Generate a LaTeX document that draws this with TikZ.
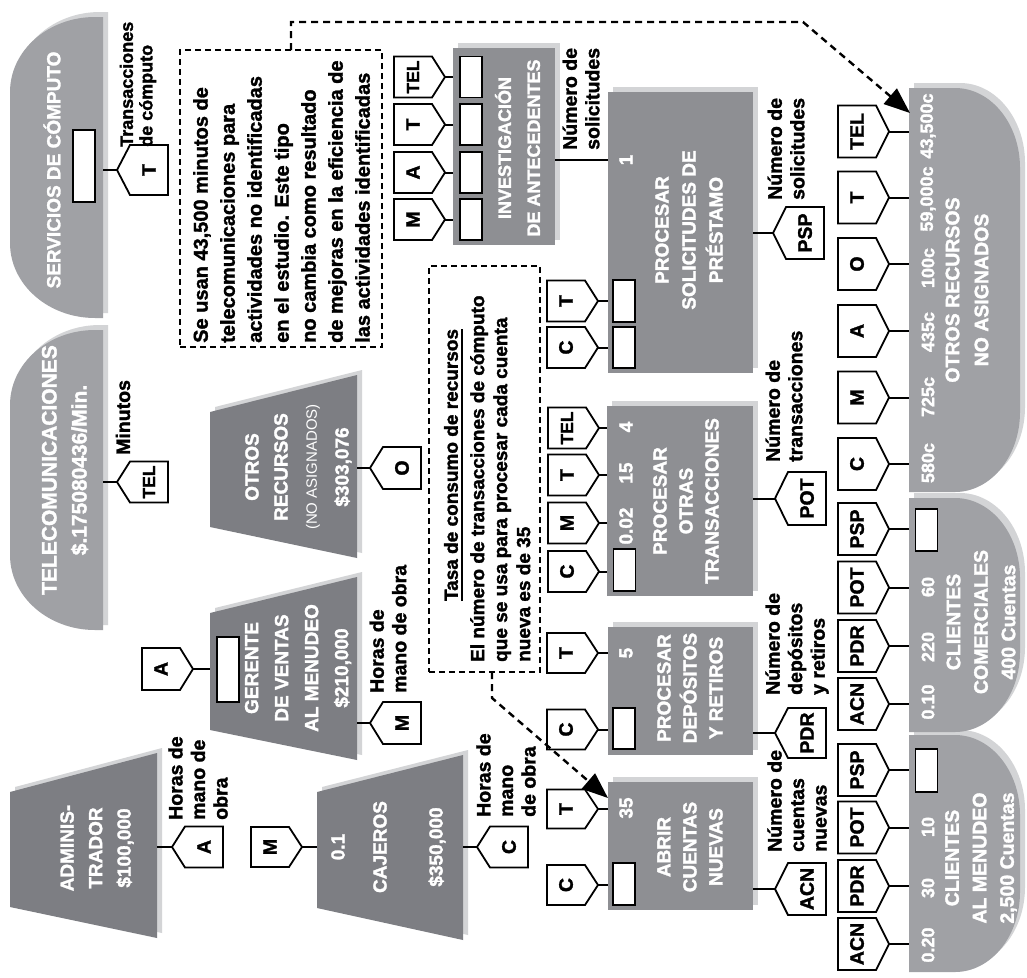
\documentclass[tikz,border=0pt]{standalone}
\usepackage{fontspec}
\setmainfont{Liberation Sans}[BoldFeatures={FakeBold=1.6}]
\usetikzlibrary{arrows.meta}
\definecolor{trapc}{HTML}{7D7E83}
\definecolor{actc}{HTML}{8E8F93}
\definecolor{resc}{HTML}{A0A1A5}
\definecolor{shdc}{HTML}{D3D4D6}
\newcommand{\smtel}{{\fontsize{17.5}{17.5}\selectfont TEL}}
\tikzset{
 shd/.style={preaction={fill=shdc,transform canvas={xshift=5pt,yshift=5pt}}},
 actbox/.style={rectangle, fill=actc, shd, inner sep=0pt, outer sep=0pt},
 slot/.style={rectangle, draw=black, fill=white, line width=1.8pt, inner sep=0pt, minimum width=22pt},
 wt/.style={text=white, font=\fontsize{19}{27}\selectfont\bfseries, rotate=90, align=center, inner sep=0pt},
 num/.style={text=white, font=\fontsize{19}{19}\selectfont\bfseries, rotate=90, inner sep=0pt},
 rnum/.style={text=white, font=\fontsize{18}{18}\selectfont\bfseries, rotate=90, inner sep=0pt},
 lbl/.style={font=\fontsize{19.5}{22.5}\selectfont\bfseries, rotate=90, align=left, anchor=west, inner sep=0pt},
 tagtxt/.style={font=\fontsize{19.5}{19.5}\selectfont\bfseries, rotate=90, inner sep=0pt},
 tagline/.style={draw=black, fill=white, line width=1.8pt, line join=miter},
 conn/.style={line width=2pt},
 note/.style={draw=black, line width=1.6pt, dash pattern=on 6pt off 4pt, inner sep=0pt, outer sep=0pt},
 darrow/.style={line width=2.4pt, dash pattern=on 7pt off 5pt, -{Triangle[length=26pt,width=20pt]}},
 notetxt/.style={font=\fontsize{20}{27}\selectfont\bfseries, rotate=90, align=left, anchor=north west, inner sep=0pt},
}
\newcommand{\mktagL}[5]{%
  \filldraw[tagline] (#2,#3) -- (#2+13,#3-#4) -- (#2+51,#3-#4) -- (#2+51,#3+#4) -- (#2+13,#3+#4) -- cycle;
  \coordinate (#1-tip) at (#2,#3);
  \node[tagtxt] (#1) at (#2+32,#3) {#5};
}
\newcommand{\mktagR}[5]{%
  \filldraw[tagline] (#2,#3) -- (#2-13,#3-#4) -- (#2-51,#3-#4) -- (#2-51,#3+#4) -- (#2-13,#3+#4) -- cycle;
  \coordinate (#1-tip) at (#2,#3);
  \node[tagtxt] (#1) at (#2-32,#3) {#5};
}
\begin{document}
\begin{tikzpicture}[x=1pt,y=-1pt]
\fill[white] (0,0) rectangle (1027,977);
\useasboundingbox (0,0) rectangle (1027,977);

% ---------- SERVICIOS DE COMPUTO ----------
\fill[resc,shd] (103,17) -- (95,17) .. controls (48.1,17) and (10,50.6) .. (10,92) -- (10,243) .. controls (10,284.4) and (48.1,318) .. (95,318) -- (103,318) -- cycle;
\node[wt] (serv) at (52,170) {SERVICIOS DE CÓMPUTO};
\node[slot, minimum height=72pt] (servslot) at (84,166) {};
\coordinate (serv-e) at (103,170);
\mktagL{servT}{117}{170}{25}{T}
\draw[conn] (serv-e) -- (servT-tip);
\node[lbl, font=\fontsize{18}{19.5}\selectfont\bfseries] (servlbl) at (138,147) {Transacciones\\de cómputo};

% ---------- TELECOMUNICACIONES ----------
\fill[resc,shd] (103,330) -- (95,330) .. controls (48.1,330) and (10,363.6) .. (10,405) -- (10,555) .. controls (10,596.4) and (48.1,630) .. (95,630) -- (103,630) -- cycle;
\node[wt, font=\fontsize{21}{30}\selectfont\bfseries] (tel) at (65,470) {TELECOMUNICACIONES\\\$.175080436/Min.};
\coordinate (tel-e) at (103,482);
\mktagL{telT}{117}{482}{20.5}{\smtel}
\draw[conn] (tel-e) -- (telT-tip);
\node[lbl] (tellbl) at (123,455) {Minutos};

% ---------- ADMINISTRADOR ----------
\fill[trapc,shd] (10,792) -- (157,753) -- (157,938) -- (10,907) -- cycle;
\node[wt, font=\fontsize{19}{28.5}\selectfont\bfseries] (adm) at (97,848) {ADMINIS-\\TRADOR\\\$100,000};
\coordinate (adm-e) at (157,847);
\mktagL{admA}{172}{847}{20.5}{A}
\draw[conn] (adm-e) -- (admA-tip);
\node[lbl] (admlbl) at (198,820) {Horas de\\mano de\\obra};

% ---------- GERENTE ----------
\fill[trapc,shd] (210,613) -- (357,577) -- (357,760) -- (210,730) -- cycle;
\node[slot, minimum height=65pt] (gerslot) at (228,669.5) {};
\node[wt, font=\fontsize{19}{30}\selectfont\bfseries] (ger) at (298,668) {GERENTE\\DE VENTAS\\AL MENUDEO\\\$210,000};
\coordinate (ger-w) at (210,669);
\coordinate (ger-e) at (357,723);
\mktagR{gerA}{193}{669}{21}{A}
\draw[conn] (gerA-tip) -- (ger-w);
\mktagL{gerM}{370}{723}{21}{M}
\draw[conn] (ger-e) -- (gerM-tip);
\node[lbl] (gerlbl) at (388,693) {Horas de\\mano de obra};

% ---------- OTROS RECURSOS (trapecio) ----------
\fill[trapc,shd] (210,412) -- (357,375) -- (357,558) -- (210,527) -- cycle;
\node[wt] (otr1) at (252,467) {OTROS};
\node[wt] (otr2) at (281,467) {RECURSOS};
\node[wt, font=\fontsize{15}{15}\selectfont] (otr3) at (313,467) {(NO ASIGNADOS)};
\node[wt] (otr4) at (343,467) {\$303,076};
\coordinate (otr-e) at (357,468);
\mktagL{otrO}{370}{468}{21}{O}
\draw[conn] (otr-e) -- (otrO-tip);

% ---------- CAJEROS ----------
\fill[trapc,shd] (317,792) -- (463,755) -- (463,940) -- (317,908) -- cycle;
\node[wt] (caj1) at (338,847) {0.1};
\node[wt] (caj2) at (380,847) {CAJEROS};
\node[wt] (caj3) at (437,847) {\$350,000};
\coordinate (caj-w) at (317,847);
\coordinate (caj-e) at (463,847);
\mktagR{cajM}{302}{847}{20}{M}
\draw[conn] (cajM-tip) -- (caj-w);
\mktagL{cajC}{477}{847}{20.5}{C}
\draw[conn] (caj-e) -- (cajC-tip);
\node[lbl] (cajlbl) at (506,817) {Horas de\\mano\\de obra};

% ---------- NOTES ----------
\node[note, minimum width=202pt, minimum height=297pt] (n1) at (281,198.5) {};
\node[notetxt] (n1t) at (193,343) {Se usan 43,500 minutos de\\telecomunicaciones para\\actividades no identificadas\\en el estudio. Este tipo\\no cambia como resultado\\de mejoras en la eficiencia de\\las actividades identificadas};
\node[note, minimum width=111pt, minimum height=406pt] (n2) at (484.5,469) {};
\node[font=\fontsize{19}{19}\selectfont\bfseries, rotate=90, inner sep=0pt] (n2a) at (451,465) {Tasa de consumo de recursos};
\draw[line width=1.4pt] ([xshift=4pt]n2a.south west) -- ([xshift=4pt]n2a.south east);
\node[notetxt, font=\fontsize{19}{23}\selectfont\bfseries] (n2b) at (470,662) {El número de transacciones de cómputo\\que se usa para procesar cada cuenta\\nueva es de 35};

% ---------- INVESTIGACION ----------
\node[actbox, minimum width=102pt, minimum height=197pt] (inv) at (504,146.5) {};
\node[slot, minimum height=41pt] (invs1) at (471,77) {};
\node[slot, minimum height=41pt] (invs2) at (471,124.5) {};
\node[slot, minimum height=41pt] (invs3) at (471,172.5) {};
\node[slot, minimum height=41pt] (invs4) at (471,219.5) {};
\node[wt, font=\fontsize{18}{29}\selectfont\bfseries] (invt) at (517.5,148) {INVESTIGACIÓN\\DE ANTECEDENTES};
\mktagR{invTEL}{445}{77}{20.5}{\smtel}
\mktagR{invT}{445}{124.5}{20.5}{T}
\mktagR{invA}{445}{172.5}{20.5}{A}
\mktagR{invM}{445}{219.5}{20.5}{M}
\draw[conn] (invTEL-tip) -- (invTEL-tip -| inv.west);
\draw[conn] (invT-tip) -- (invT-tip -| inv.west);
\draw[conn] (invA-tip) -- (invA-tip -| inv.west);
\draw[conn] (invM-tip) -- (invM-tip -| inv.west);
\node[lbl] (invlbl) at (581,150) {Número de\\solicitudes};

% ---------- PROCESAR SOLICITUDES ----------
\node[actbox, minimum width=145pt, minimum height=281pt] (psp) at (680.5,232.5) {};
\node[slot, minimum height=42pt] (psps1) at (624,301) {};
\node[slot, minimum height=41pt] (psps2) at (624,347.5) {};
\node[num] (psp1) at (626,160) {1};
\node[wt] (pspt) at (689,230) {PROCESAR\\SOLICITUDES DE\\PRÉSTAMO};
\coordinate (invout) at (555,160);
\draw[conn] (invout) -- (invout -| psp.west);
\mktagR{pspT}{598}{301}{20.5}{T}
\mktagR{pspC}{598}{347.5}{20.5}{C}
\draw[conn] (pspT-tip) -- (pspT-tip -| psp.west);
\draw[conn] (pspC-tip) -- (pspC-tip -| psp.west);
\mktagL{pspO}{773}{233}{26}{PSP}
\draw[conn] (psp.east |- pspO-tip) -- (pspO-tip);
\node[lbl] (psplbl) at (786,200) {Número de\\solicitudes};

% ---------- PROCESAR OTRAS TRANSACCIONES ----------
\node[actbox, minimum width=146pt, minimum height=190pt] (pot) at (680,501) {};
\node[slot, minimum height=42pt] (pots1) at (624.5,570) {};
\node[num] (pot4) at (626,427) {4};
\node[num] (pot15) at (626,473) {15};
\node[num] (pot002) at (626,526) {0.02};
\node[wt, font=\fontsize{19}{26}\selectfont\bfseries] (pott) at (686,501) {PROCESAR\\OTRAS\\TRANSACCIONES};
\mktagR{potTEL}{599}{428}{20.5}{\smtel}
\mktagR{potT}{599}{475}{20.5}{T}
\mktagR{potM}{599}{523}{20.5}{M}
\mktagR{potC}{599}{571.5}{20.5}{C}
\draw[conn] (potTEL-tip) -- (potTEL-tip -| pot.west);
\draw[conn] (potT-tip) -- (potT-tip -| pot.west);
\draw[conn] (potM-tip) -- (potM-tip -| pot.west);
\draw[conn] (potC-tip) -- (potC-tip -| pot.west);
\mktagL{potO}{775}{498.5}{26.5}{POT}
\draw[conn] (pot.east |- potO-tip) -- (potO-tip);
\node[lbl] (potlbl) at (784,462) {Número de\\transacciones};

% ---------- PROCESAR DEPOSITOS ----------
\node[actbox, minimum width=145pt, minimum height=128pt] (pdr) at (680.5,691) {};
\node[slot, minimum height=41pt] (pdrs1) at (624,728.5) {};
\node[num] (pdr5) at (626,653) {5};
\node[wt, font=\fontsize{19}{26}\selectfont\bfseries] (pdrt) at (690,688) {PROCESAR\\DEPÓSITOS\\Y RETIROS};
\mktagR{pdrT}{598}{653}{20}{T}
\mktagR{pdrC}{598}{729.5}{20}{C}
\draw[conn] (pdrT-tip) -- (pdrT-tip -| pdr.west);
\draw[conn] (pdrC-tip) -- (pdrC-tip -| pdr.west);
\mktagL{pdrO}{775}{733}{25}{PDR}
\draw[conn] (pdr.east |- pdrO-tip) -- (pdrO-tip);
\node[lbl] (pdrlbl) at (797,695) {Número de\\depósitos\\y retiros};

% ---------- ABRIR CUENTAS ----------
\node[actbox, minimum width=145pt, minimum height=128pt] (acn) at (680.5,846) {};
\node[slot, minimum height=42pt] (acns1) at (624,884) {};
\node[num] (acn35) at (626,808) {35};
\node[wt, font=\fontsize{19}{26}\selectfont\bfseries] (acnt) at (690,847) {ABRIR\\CUENTAS\\NUEVAS};
\mktagR{acnT}{598}{809}{19.5}{T}
\mktagR{acnC}{598}{885}{20}{C}
\draw[conn] (acnT-tip) -- (acnT-tip -| acn.west);
\draw[conn] (acnC-tip) -- (acnC-tip -| acn.west);
\mktagL{acnO}{775}{889}{26}{ACN}
\draw[conn] (acn.east |- acnO-tip) -- (acnO-tip);
\node[lbl] (acnlbl) at (797,852) {Número de\\cuentas\\nuevas};

% ---------- OTROS RECURSOS NO ASIGNADOS ----------
\fill[resc,shd] (909,88) -- (955,88) .. controls (990.9,88) and (1020,123.8) .. (1020,168) -- (1020,412) .. controls (1020,456.2) and (990.9,492) .. (955,492) -- (909,492) -- cycle;
\coordinate (ona-w) at (909,290);
\coordinate (ona-arr) at (910,113);
\node[rnum] (ona1) at (928,463) {580c};
\node[rnum] (ona2) at (928,397) {725c};
\node[rnum] (ona3) at (928,332) {435c};
\node[rnum] (ona4) at (928,268) {100c};
\node[rnum] (ona5) at (928,199) {59,000c};
\node[rnum] (ona6) at (928,126) {43,500c};
\node[wt, font=\fontsize{19.5}{29}\selectfont\bfseries] (onat) at (967,290) {OTROS RECURSOS\\NO ASIGNADOS};
\mktagR{onaTEL}{889}{131.5}{26}{TEL}
\mktagR{onaT}{889}{197.5}{26}{T}
\mktagR{onaO}{889}{264}{26}{O}
\mktagR{onaA}{889}{331}{26}{A}
\mktagR{onaM}{889}{397.5}{26}{M}
\mktagR{onaC}{889}{464}{26}{C}
\draw[conn] (onaTEL-tip) -- (onaTEL-tip -| ona-w);
\draw[conn] (onaT-tip) -- (onaT-tip -| ona-w);
\draw[conn] (onaO-tip) -- (onaO-tip -| ona-w);
\draw[conn] (onaA-tip) -- (onaA-tip -| ona-w);
\draw[conn] (onaM-tip) -- (onaM-tip -| ona-w);
\draw[conn] (onaC-tip) -- (onaC-tip -| ona-w);

% ---------- CLIENTES AL MENUDEO ----------
\fill[resc,shd] (909,735) -- (955,735) .. controls (990.9,735) and (1020,770.8) .. (1020,815) -- (1020,892) .. controls (1020,936.2) and (990.9,972) .. (955,972) -- (909,972) -- cycle;
\coordinate (men-w) at (909,850);
\node[slot, minimum height=43pt] (mens1) at (926.5,770.5) {};
\node[rnum] (men10) at (928,827) {10};
\node[rnum] (men30) at (928,888) {30};
\node[rnum] (men020) at (928,945) {0.20};
\node[wt, font=\fontsize{19.5}{27.5}\selectfont\bfseries] (ment) at (981,858) {CLIENTES\\AL MENUDEO\\2,500 Cuentas};
\mktagR{menPSP}{889}{770}{26}{PSP}
\mktagR{menPOT}{889}{827.5}{26}{POT}
\mktagR{menPDR}{889}{886}{26}{PDR}
\mktagR{menACN}{889}{944}{26}{ACN}
\draw[conn] (menPSP-tip) -- (menPSP-tip -| men-w);
\draw[conn] (menPOT-tip) -- (menPOT-tip -| men-w);
\draw[conn] (menPDR-tip) -- (menPDR-tip -| men-w);
\draw[conn] (menACN-tip) -- (menACN-tip -| men-w);

% ---------- CLIENTES COMERCIALES ----------
\fill[resc,shd] (909,498) -- (955,498) .. controls (990.9,498) and (1020,533.8) .. (1020,578) -- (1020,652) .. controls (1020,696.2) and (990.9,732) .. (955,732) -- (909,732) -- cycle;
\coordinate (com-w) at (909,615);
\node[slot, minimum height=42pt] (coms1) at (926.5,530) {};
\node[rnum] (com60) at (928,587) {60};
\node[rnum] (com220) at (928,647) {220};
\node[rnum] (com010) at (928,702) {0.10};
\node[wt, font=\fontsize{19.5}{27.5}\selectfont\bfseries] (comt) at (981,622) {CLIENTES\\COMERCIALES\\400 Cuentas};
\mktagR{comPSP}{889}{529}{26}{PSP}
\mktagR{comPOT}{889}{587.5}{26}{POT}
\mktagR{comPDR}{889}{646}{26}{PDR}
\mktagR{comACN}{889}{704}{26}{ACN}
\draw[conn] (comPSP-tip) -- (comPSP-tip -| com-w);
\draw[conn] (comPOT-tip) -- (comPOT-tip -| com-w);
\draw[conn] (comPDR-tip) -- (comPDR-tip -| com-w);
\draw[conn] (comACN-tip) -- (comACN-tip -| com-w);

% ---------- DASHED ARROWS ----------
\coordinate (a1s) at (291,50);
\draw[darrow] (a1s) -- (291,22) -- (803,22) -- (ona-arr);
\coordinate (a2s) at (492,672);
\coordinate (acn-arr) at (608,798);
\draw[darrow] (a2s) -- (492,698) -- (acn-arr);
\end{tikzpicture}
\end{document}
